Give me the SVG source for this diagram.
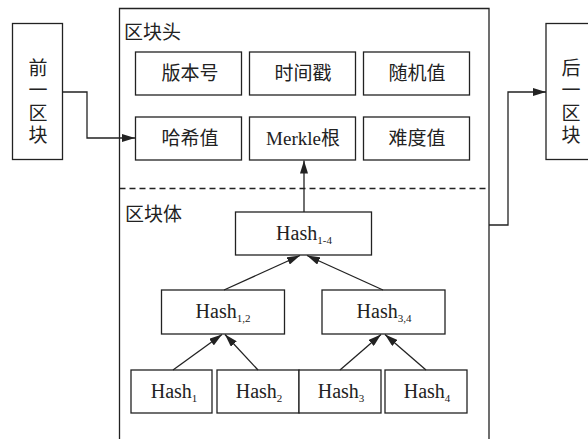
<svg xmlns="http://www.w3.org/2000/svg" width="588" height="439" viewBox="0 0 588 439">
<defs>
<style>
.b{fill:#fff;stroke:#222;stroke-width:1.3}
.l{fill:none;stroke:#222;stroke-width:1.3}
.cn{font-family:"Liberation Serif","Noto Sans CJK SC",serif;font-size:19px;fill:#222}
.h{font-family:"Liberation Serif","Noto Sans CJK SC",serif;font-size:20px;fill:#222;text-anchor:middle}
.s{font-size:11px}
.c{text-anchor:middle}
</style>
<marker id="ar" viewBox="0 0 13 8" refX="13" refY="4" markerWidth="13" markerHeight="8" markerUnits="userSpaceOnUse" orient="auto">
<path d="M0,0L13,4L0,8z" fill="#222"/>
</marker>
</defs>
<rect width="588" height="439" fill="#fff"/>
<g id="main">
<path class="l" d="M119.5,440V8.5H489V440"/>
<line x1="119.5" y1="188.5" x2="489" y2="188.5" stroke="#222" stroke-width="1.3" stroke-dasharray="6,4"/>
<text class="cn" x="124" y="39">区块头</text>
<text class="cn" x="125" y="221">区块体</text>
</g>
<g id="prev">
<rect class="b" x="12.5" y="23.5" width="50" height="136"/>
<text class="cn c" x="38" y="75">前</text>
<text class="cn c" x="38" y="97">一</text>
<text class="cn c" x="38" y="120">区</text>
<text class="cn c" x="38" y="142">块</text>
</g>
<g id="next">
<rect class="b" x="546" y="23.5" width="50" height="136"/>
<text class="cn c" x="571" y="75">后</text>
<text class="cn c" x="571" y="97">一</text>
<text class="cn c" x="571" y="120">区</text>
<text class="cn c" x="571" y="142">块</text>
</g>
<g id="version"><rect class="b" x="135.5" y="52" width="106" height="43"/><text class="cn c" x="190" y="80">版本号</text></g>
<g id="timestamp"><rect class="b" x="249.5" y="52" width="106" height="43"/><text class="cn c" x="303" y="80">时间戳</text></g>
<g id="nonce"><rect class="b" x="363.5" y="52" width="106" height="43"/><text class="cn c" x="417" y="80">随机值</text></g>
<g id="prevhash"><rect class="b" x="135.5" y="117" width="106" height="43"/><text class="cn c" x="190" y="145">哈希值</text></g>
<g id="merkle"><rect class="b" x="249.5" y="117" width="106" height="43"/><text class="cn c" x="303" y="145">Merkle根</text></g>
<g id="difficulty"><rect class="b" x="363.5" y="117" width="106" height="43"/><text class="cn c" x="417" y="145">难度值</text></g>
<g id="h14"><rect class="b" x="235.5" y="212" width="136" height="43"/><text class="h" x="304" y="240">Hash<tspan class="s" dy="4">1-4</tspan></text></g>
<g id="h12"><rect class="b" x="161.5" y="290" width="123" height="44"/><text class="h" x="223" y="318">Hash<tspan class="s" dy="4">1,2</tspan></text></g>
<g id="h34"><rect class="b" x="322" y="290" width="123" height="44"/><text class="h" x="384" y="318">Hash<tspan class="s" dy="4">3,4</tspan></text></g>
<g id="h1"><rect class="b" x="131" y="370" width="81" height="43"/><text class="h" x="174" y="398">Hash<tspan class="s" dy="4">1</tspan></text></g>
<g id="h2"><rect class="b" x="217" y="370" width="82" height="43"/><text class="h" x="259" y="398">Hash<tspan class="s" dy="4">2</tspan></text></g>
<g id="h3"><rect class="b" x="299" y="370" width="82" height="43"/><text class="h" x="341" y="398">Hash<tspan class="s" dy="4">3</tspan></text></g>
<g id="h4"><rect class="b" x="385" y="370" width="82" height="43"/><text class="h" x="427" y="398">Hash<tspan class="s" dy="4">4</tspan></text></g>
<g id="connectors">
<path class="l" d="M62.5,92H87V138H135" marker-end="url(#ar)"/>
<path class="l" d="M489,225H508V92H546" marker-end="url(#ar)"/>
<path class="l" d="M304,212V160.5" marker-end="url(#ar)"/>
<path class="l" d="M224,290L300,255.5" marker-end="url(#ar)"/>
<path class="l" d="M383,290L307,255.5" marker-end="url(#ar)"/>
<path class="l" d="M173,370L222,334.5" marker-end="url(#ar)"/>
<path class="l" d="M258,370L225,334.5" marker-end="url(#ar)"/>
<path class="l" d="M340,370L381,334.5" marker-end="url(#ar)"/>
<path class="l" d="M426,370L385,334.5" marker-end="url(#ar)"/>
</g>
</svg>
